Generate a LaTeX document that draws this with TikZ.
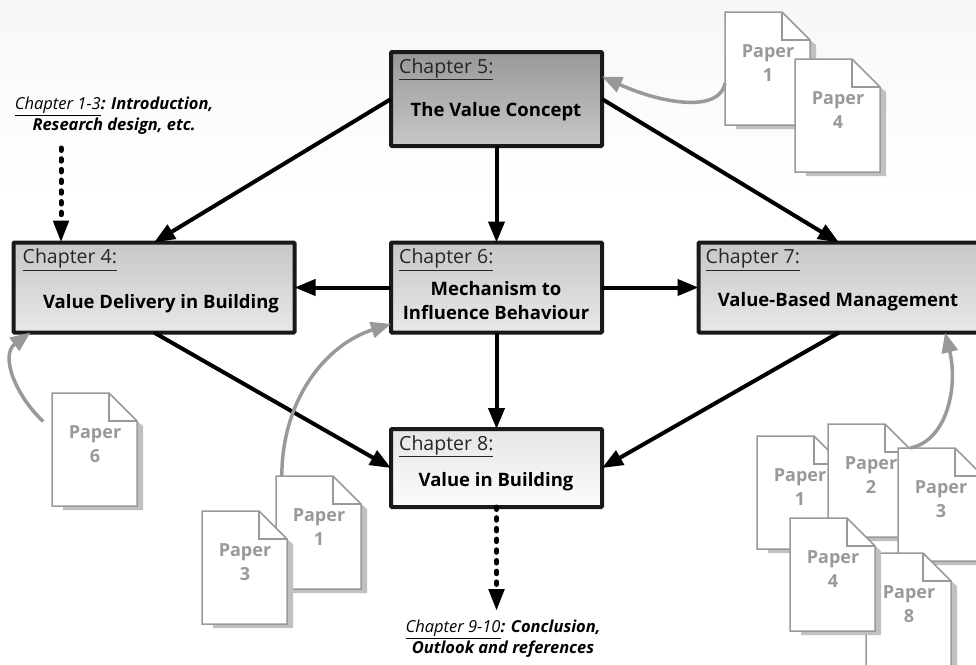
\documentclass[tikz,border=0pt]{standalone}
\usepackage{fontspec}
\setmainfont{Open Sans}
\usetikzlibrary{calc}
\usetikzlibrary{positioning}
\usetikzlibrary{arrows.meta}

\definecolor{papergray}{HTML}{999999}
\definecolor{shadowgray}{HTML}{C0C0C0}

\tikzset{
    chapterbox/.style={draw=black!90, line width=4pt, rounded corners=1pt,
        minimum width=211pt, outer sep=0pt, inner sep=0pt},
    chapterlabel/.style={font=\fontsize{19.5}{20}\selectfont, text=black!85,
        inner sep=0pt, text height=15pt, text depth=4pt},
    chaptertitle/.style={font=\fontsize{18.5}{24}\selectfont\bfseries,
        align=center, inner sep=0pt},
    sidetext/.style={font=\fontsize{16.5}{21}\selectfont\itshape, align=center,
        inner sep=0pt},
    paperlabel/.style={font=\fontsize{18}{24}\selectfont\bfseries,
        text=papergray, align=center, inner sep=0pt},
    paperframe/.style={minimum width=85pt, minimum height=113pt,
        inner sep=0pt, outer sep=0pt},
    mainarrow/.style={line width=4pt, black,
        -{Triangle[length=21pt,width=16pt]}},
    dotarrow/.style={line width=5pt, black, line cap=round,
        dash pattern=on 2.5pt off 8.2pt,
        -{Triangle[length=22pt,width=15pt,line cap=butt]}},
    paperarrow/.style={line width=3.5pt, papergray,
        -{Triangle[length=20pt,width=16pt]}}
}

% name, left edge, top edge, number
\newcommand{\paperdoc}[4]{
    \fill[shadowgray] (#2+11,#3+113) -- (#2+11,#3+117) -- (#2+91,#3+117)
        -- (#2+91,#3+33) -- (#2+85,#3+28) -- cycle;
    \filldraw[fill=white, draw=papergray, line width=1.5pt] (#2,#3) -- (#2+57,#3)
        -- (#2+85,#3+28) -- (#2+85,#3+113) -- (#2,#3+113) -- cycle;
    \draw[papergray, line width=1.5pt] (#2+57,#3) -- (#2+57,#3+28) -- (#2+85,#3+28);
    \node (#1) [paperframe] at (#2+42.5,#3+56.5) {};
    \node (#1t) [paperlabel] at (#2+43,#3+51) {Paper\\#4};
}

\begin{document}
\begin{tikzpicture}[x=1pt, y=-1pt]

        \def\d{96.5pt}

        \useasboundingbox (0,0) rectangle (976,664);
        \begin{scope}
        \clip (0,0) rectangle (976,664);

        \fill[top color=black!3, bottom color=white] (0,0) rectangle (976,200);

        % Chapter boxes
        \node (C5) [chapterbox, minimum height=94pt,
            top color=black!40, bottom color=black!22] at (496.5,99) {};
        \node (C6) [chapterbox, minimum height=90pt, below=\d of C5,
            top color=black!22, bottom color=black!9] {};
        \node (C4) [chapterbox, minimum height=90pt, minimum width=281pt,
            left=\d of C6, top color=black!22, bottom color=black!9] {};
        \node (C7) [chapterbox, minimum height=90pt, minimum width=281pt,
            right=\d of C6, top color=black!22, bottom color=black!9] {};
        \node (C8) [chapterbox, minimum height=78pt, below=\d of C6,
            top color=black!10, bottom color=black!1] {};

        \node (L5) [chapterlabel, below right=6pt and 8pt of C5.north west]
        {\underline{Chapter 5:}};
        \node (L4) [chapterlabel, below right=6pt and 9pt of C4.north west]
        {\underline{Chapter 4:}};
        \node (L6) [chapterlabel, below right=6pt and 8pt of C6.north west]
        {\underline{Chapter 6:}};
        \node (L7) [chapterlabel, below right=6pt and 7pt of C7.north west]
        {\underline{Chapter 7:}};
        \node (L8) [chapterlabel, below right=6pt and 8pt of C8.north west]
        {\underline{Chapter 8:}};

        \node (T5) [chaptertitle] at (496,112) {The Value Concept};
        \node (T4) [chaptertitle] at (161,304) {Value Delivery in Building};
        \node (T6) [chaptertitle] at (496,301) {Mechanism to\\Influence Behaviour};
        \node (T7) [chaptertitle] at (838,302) {Value-Based Management};
        \node (T8) [chaptertitle] at (496,482) {Value in Building};

        \node (S13) [sidetext] at (114,116)
        {\underline{Chapter 1-3}\textbf{: Introduction,}\\\textbf{Research design, etc.}};
        \node (S910) [sidetext] at (503,639)
        {\underline{Chapter 9-10}\textbf{: Conclusion,}\\\textbf{Outlook and references}};

        % Papers, the order sets what lies on top
        \paperdoc{P51}{725}{12}{1}
        \paperdoc{P54}{795}{59}{4}
        \paperdoc{P46}{52}{393}{6}
        \paperdoc{P61}{276}{476}{1}
        \paperdoc{P63}{202}{511}{3}
        \paperdoc{P71}{757}{436}{1}
        \paperdoc{P72}{828}{424}{2}
        \paperdoc{P73}{898}{448}{3}
        \paperdoc{P78}{866}{553}{8}
        \paperdoc{P74}{790}{518}{4}

        \coordinate (D4) at (61,148);
        \coordinate (D8) at (496.5,611);

        \begin{scope}
            \draw[mainarrow] (C5.west) -- (C4.north);
            \draw[mainarrow] (C5.south) -- (C6.north);
            \draw[mainarrow] (C5.east) -- (C7.north);
            \draw[mainarrow] (C6.west) -- (C4.east);
            \draw[mainarrow] (C6.east) -- (C7.west);
            \draw[mainarrow] (C6.south) -- (C8.north);
            \draw[mainarrow] (C4.south) -- (C8.west);
            \draw[mainarrow] (C7.south) -- (C8.east);

            \draw[dotarrow] (D4) -- (D4 |- C4.north);
            \draw[dotarrow] (C8.south) -- (D8);
        \end{scope}

        \begin{scope}
            \draw[paperarrow] (P51.199) .. controls (720,112) and (665,105) .. (C5.12);
            \draw[paperarrow, shorten <=12pt] (P46.155) .. controls (15,395) and (0,355) .. (C4.200);
            \draw[paperarrow] (P61.123) .. controls (282,400) and (325,345) .. (C6.199);
            \draw[paperarrow] (P73.118) .. controls (948,440) and (958,385) .. (C7.337);
        \end{scope}

        \end{scope}

        \end{tikzpicture}
\end{document}
